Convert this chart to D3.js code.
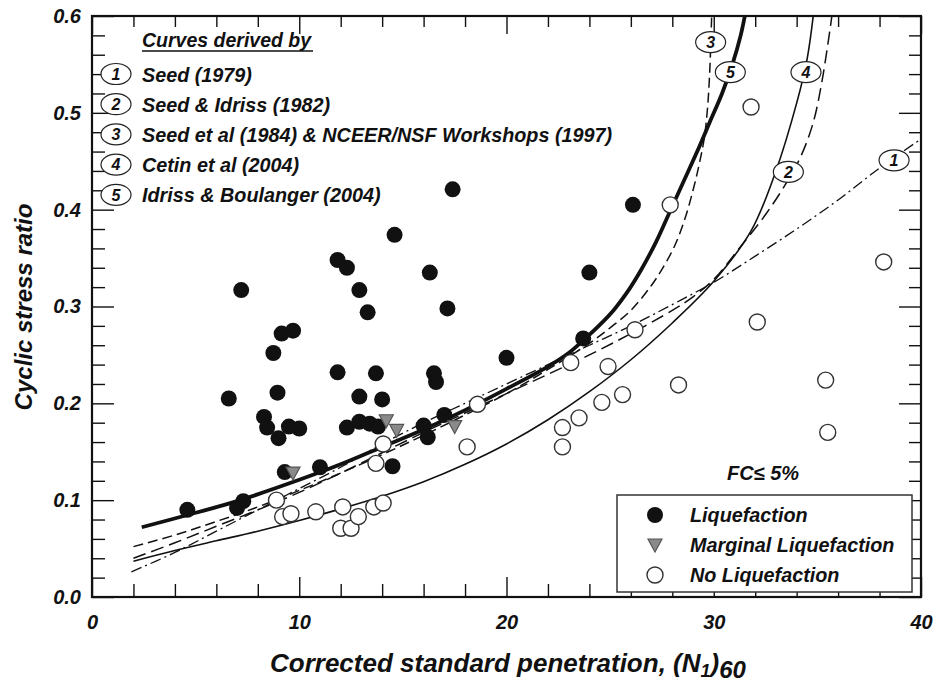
<!DOCTYPE html>
<html><head><meta charset="utf-8">
<script src="https://cdn.jsdelivr.net/npm/d3@7"></script>
<style>
html,body{margin:0;padding:0;background:#fff;}
svg text{font-family:"Liberation Sans",Arial,sans-serif;font-weight:bold;font-style:italic;fill:#111;}
</style></head><body>
<svg id="chart" width="936" height="682"></svg>
<script>
// ---------- DATA ----------
const xTickLabels = [0, 10, 20, 30, 40];
const yTickLabels = [0.0, 0.1, 0.2, 0.3, 0.4, 0.5, 0.6];

// Curve 1: Seed (1979)
const c1N   = [1.9, 4, 6, 8, 10, 12, 14, 16, 18, 20, 22, 24, 26, 28, 30, 32, 34, 36, 38, 40];
const c1CSR = [0.026, 0.046, 0.068, 0.09, 0.112, 0.134, 0.158, 0.18, 0.2, 0.22, 0.24, 0.26, 0.28, 0.302, 0.325, 0.352, 0.38, 0.41, 0.443, 0.473];
// Curve 2: Seed & Idriss (1982)
const c2N   = [2, 4, 6, 8, 10, 12, 14, 16, 18, 20, 22, 24, 26, 28, 29, 30, 31.3, 32.5, 33.4, 34.2, 34.8, 35.2, 35.5, 35.7];
const c2CSR = [0.04, 0.056, 0.073, 0.09, 0.108, 0.128, 0.149, 0.17, 0.19, 0.21, 0.23, 0.25, 0.272, 0.296, 0.31, 0.328, 0.362, 0.395, 0.424, 0.455, 0.49, 0.53, 0.57, 0.6];
// Curve 3: Seed et al (1984) & NCEER/NSF Workshops (1997)
const c3N   = [2, 4, 6, 8, 10, 12, 14, 16, 18, 20, 22, 24, 25, 26, 27, 27.6, 28.1, 28.6, 29.0, 29.3, 29.55, 29.7, 29.8, 29.9];
const c3CSR = [0.052, 0.064, 0.078, 0.093, 0.11, 0.128, 0.147, 0.167, 0.188, 0.21, 0.235, 0.262, 0.278, 0.296, 0.322, 0.342, 0.362, 0.39, 0.42, 0.447, 0.475, 0.505, 0.54, 0.6];
// Curve 4: Cetin et al (2004)
const c4N   = [2, 4, 6, 8, 10, 12, 14, 16, 18, 20, 22, 24, 26, 28, 30, 31.8, 33, 34, 34.5, 34.8];
const c4CSR = [0.037, 0.048, 0.058, 0.068, 0.079, 0.091, 0.104, 0.119, 0.137, 0.158, 0.183, 0.212, 0.245, 0.283, 0.326, 0.378, 0.44, 0.51, 0.555, 0.6];
// Curve 5: Idriss & Boulanger (2004)
const c5N   = [2.4, 5, 7, 10, 12, 14, 16, 18, 20, 22, 23, 23.7, 24.5, 25.2, 25.8, 26.5, 27.2, 27.8, 28.5, 29.2, 29.8, 30.4, 30.9, 31.3, 31.5];
const c5CSR = [0.072, 0.087, 0.099, 0.121, 0.137, 0.155, 0.173, 0.193, 0.215, 0.238, 0.252, 0.265, 0.281, 0.297, 0.314, 0.338, 0.366, 0.394, 0.427, 0.46, 0.49, 0.52, 0.55, 0.58, 0.6];

const curveNames = ["Seed (1979)", "Seed & Idriss (1982)", "Seed et al (1984) & NCEER/NSF Workshops (1997)", "Cetin et al (2004)", "Idriss & Boulanger (2004)"];
const curveLabelN   = [38.7, 33.6, 29.85, 34.45, 30.8];
const curveLabelCSR = [0.451, 0.439, 0.573, 0.542, 0.542];

// Field case histories
const liqN   = [4.6, 7.0, 7.3, 7.2, 6.6, 8.75, 9.15, 9.7, 8.95, 8.3, 8.45, 9.0, 9.5, 10.0, 9.3, 11.0, 11.85, 12.3, 12.9, 13.3, 11.85, 13.7, 12.9, 14.0, 12.3, 12.9, 13.4, 13.8, 14.6, 14.5, 17.4, 16.3, 17.15, 16.5, 16.6, 16.0, 16.2, 17.0, 20.0, 24.0, 23.7, 26.1];
const liqCSR = [0.090, 0.092, 0.099, 0.317, 0.205, 0.252, 0.272, 0.275, 0.211, 0.186, 0.175, 0.164, 0.176, 0.174, 0.129, 0.134, 0.348, 0.340, 0.317, 0.294, 0.232, 0.231, 0.207, 0.204, 0.175, 0.181, 0.179, 0.176, 0.374, 0.135, 0.421, 0.335, 0.298, 0.231, 0.222, 0.177, 0.165, 0.188, 0.247, 0.335, 0.267, 0.405];
const margN   = [9.7, 14.2, 14.7, 17.5];
const margCSR = [0.128, 0.182, 0.172, 0.176];
const noLiqN   = [8.9, 9.2, 9.6, 10.8, 12.1, 12.0, 12.5, 12.85, 13.6, 14.05, 13.7, 14.05, 18.1, 18.6, 22.7, 22.7, 23.5, 23.1, 24.6, 24.9, 25.6, 26.2, 28.3, 27.9, 31.8, 32.1, 35.4, 35.5, 38.2];
const noLiqCSR = [0.100, 0.083, 0.086, 0.088, 0.093, 0.071, 0.071, 0.083, 0.093, 0.097, 0.138, 0.158, 0.155, 0.199, 0.175, 0.155, 0.185, 0.242, 0.201, 0.238, 0.209, 0.276, 0.219, 0.405, 0.506, 0.284, 0.224, 0.170, 0.346];

const legendLabels = ["Liquefaction", "Marginal Liquefaction", "No Liquefaction"];

// ---------- CHART ----------
const svg = d3.select("#chart");
svg.append("rect").attr("width", 936).attr("height", 682).attr("fill", "#fff");
const L = 92, R = 921, T = 16, B = 597;
const x = d3.scaleLinear().domain([0, 40]).range([L, R]);
const y = d3.scaleLinear().domain([0, 0.6]).range([B, T]);

const xMinor = d3.range(2, 40, 2).filter(d => d % 10 !== 0);
const yMinor = d3.range(1, 30).map(i => i * 0.02).filter(d => Math.abs(d * 10 - Math.round(d * 10)) > 1e-6);

function styleAxis(g) {
  g.select(".domain").remove();
  g.selectAll(".tick line").attr("stroke", "#111").attr("stroke-width", 1.4);
  g.selectAll(".tick text").style("font-size", "20px").attr("fill", "#111");
}
// bottom
svg.append("g").attr("transform", `translate(0,${B})`)
  .call(d3.axisBottom(x).tickValues(xTickLabels).tickSize(-20).tickPadding(18).tickFormat(d3.format("d"))).call(styleAxis);
svg.append("g").attr("transform", `translate(0,${B})`)
  .call(d3.axisBottom(x).tickValues(xMinor).tickSize(-13).tickFormat("")).call(styleAxis);
// top
svg.append("g").attr("transform", `translate(0,${T})`)
  .call(d3.axisTop(x).tickValues(xTickLabels).tickSize(-18).tickFormat("")).call(styleAxis);
svg.append("g").attr("transform", `translate(0,${T})`)
  .call(d3.axisTop(x).tickValues(xMinor).tickSize(-11).tickFormat("")).call(styleAxis);
// left
svg.append("g").attr("transform", `translate(${L},0)`)
  .call(d3.axisLeft(y).tickValues(yTickLabels).tickSize(-22).tickPadding(11).tickFormat(d3.format(".1f"))).call(styleAxis);
svg.append("g").attr("transform", `translate(${L},0)`)
  .call(d3.axisLeft(y).tickValues(yMinor).tickSize(-13).tickFormat("")).call(styleAxis);
// right
svg.append("g").attr("transform", `translate(${R},0)`)
  .call(d3.axisRight(y).tickValues(yTickLabels).tickSize(-22).tickFormat("")).call(styleAxis);
svg.append("g").attr("transform", `translate(${R},0)`)
  .call(d3.axisRight(y).tickValues(yMinor).tickSize(-12).tickFormat("")).call(styleAxis);

// clip
svg.append("clipPath").attr("id", "plotclip").append("rect")
  .attr("x", L).attr("y", T).attr("width", R - L).attr("height", B - T);

const line = d3.line().x(d => x(d[0])).y(d => y(d[1])).curve(d3.curveCatmullRom.alpha(0.5));
const curves = [
  {n: c1N, v: c1CSR, w: 1.3, dash: "11,4,2,4"},
  {n: c2N, v: c2CSR, w: 1.5, dash: "13,6"},
  {n: c3N, v: c3CSR, w: 1.5, dash: "10,5"},
  {n: c4N, v: c4CSR, w: 1.6, dash: null},
  {n: c5N, v: c5CSR, w: 3.8, dash: null}
];
const gc = svg.append("g").attr("clip-path", "url(#plotclip)");
curves.forEach(c => {
  gc.append("path").datum(c.n.map((n, i) => [n, c.v[i]]))
    .attr("d", line).attr("fill", "none").attr("stroke", "#111")
    .attr("stroke-width", c.w).attr("stroke-dasharray", c.dash);
});

// points
const gp = svg.append("g");
gp.selectAll(".noliq").data(noLiqN.map((n, i) => [n, noLiqCSR[i]])).join("circle")
  .attr("cx", d => x(d[0])).attr("cy", d => y(d[1])).attr("r", 8)
  .attr("fill", "#fff").attr("stroke", "#333").attr("stroke-width", 1.4);
gp.selectAll(".liq").data(liqN.map((n, i) => [n, liqCSR[i]])).join("circle")
  .attr("cx", d => x(d[0])).attr("cy", d => y(d[1])).attr("r", 8)
  .attr("fill", "#111");
const tri = "M-7,-6L7,-6L0,7Z";
gp.selectAll(".marg").data(margN.map((n, i) => [n, margCSR[i]])).join("path")
  .attr("d", tri).attr("transform", d => `translate(${x(d[0])},${y(d[1])})`)
  .attr("fill", "#8a8a8a").attr("stroke", "#555").attr("stroke-width", 1.2);

// curve labels on the plot
function circled(g, cx, cy, label) {
  g.append("ellipse").attr("cx", cx).attr("cy", cy).attr("rx", 15).attr("ry", 10.5)
    .attr("fill", "#fff").attr("stroke", "#222").attr("stroke-width", 1.2);
  g.append("text").attr("x", cx).attr("y", cy).attr("dy", "0.36em")
    .attr("text-anchor", "middle").style("font-size", "16px").text(label);
}
const gl = svg.append("g");
curveLabelN.forEach((n, i) => circled(gl, x(n), y(curveLabelCSR[i]), String(i + 1)));

// frame
svg.append("rect").attr("x", L).attr("y", T).attr("width", R - L).attr("height", B - T)
  .attr("fill", "none").attr("stroke", "#111").attr("stroke-width", 2.2);

// top-left legend
const tl = svg.append("g");
tl.append("text").attr("x", 142).attr("y", 47).style("font-size", "19.5px").text("Curves derived by");
tl.append("line").attr("x1", 142).attr("x2", 313).attr("y1", 51).attr("y2", 51).attr("stroke", "#111").attr("stroke-width", 1.3);
curveNames.forEach((name, i) => {
  const by = 81.5 + i * 30.2;
  circled(tl, 116, by - 7.5, String(i + 1));
  tl.append("text").attr("x", 142).attr("y", by).style("font-size", "19.8px").text(name);
});

// FC label
svg.append("text").attr("x", 763).attr("y", 480).attr("text-anchor", "middle").style("font-size", "20px").text("FC\u2264 5%");

// bottom-right legend
const lg = svg.append("g");
lg.append("rect").attr("x", 617).attr("y", 495).attr("width", 295).attr("height", 97)
  .attr("fill", "#fff").attr("stroke", "#333").attr("stroke-width", 1.5);
const rows = [515, 545, 575];
lg.append("circle").attr("cx", 655).attr("cy", rows[0]).attr("r", 8).attr("fill", "#111");
lg.append("path").attr("d", tri).attr("transform", `translate(655,${rows[1]})`).attr("fill", "#8a8a8a").attr("stroke", "#555").attr("stroke-width", 1.2);
lg.append("circle").attr("cx", 655).attr("cy", rows[2]).attr("r", 8).attr("fill", "#fff").attr("stroke", "#333").attr("stroke-width", 1.4);
legendLabels.forEach((t, i) => {
  lg.append("text").attr("x", 690).attr("y", rows[i] + 7).style("font-size", "19.8px").text(t);
});

// axis titles
const xt = svg.append("text").attr("x", 270).attr("y", 672).style("font-size", "26px");
xt.append("tspan").text("Corrected standard penetration, (N");
xt.append("tspan").attr("dy", 5).style("font-size", "18px").text("1");
xt.append("tspan").attr("dy", -5).text(")");
xt.append("tspan").attr("dy", 6).style("font-size", "24px").text("60");

svg.append("text").attr("transform", "translate(32,307) rotate(-90)").attr("text-anchor", "middle")
  .style("font-size", "24px").text("Cyclic stress ratio");
</script>
</body></html>
